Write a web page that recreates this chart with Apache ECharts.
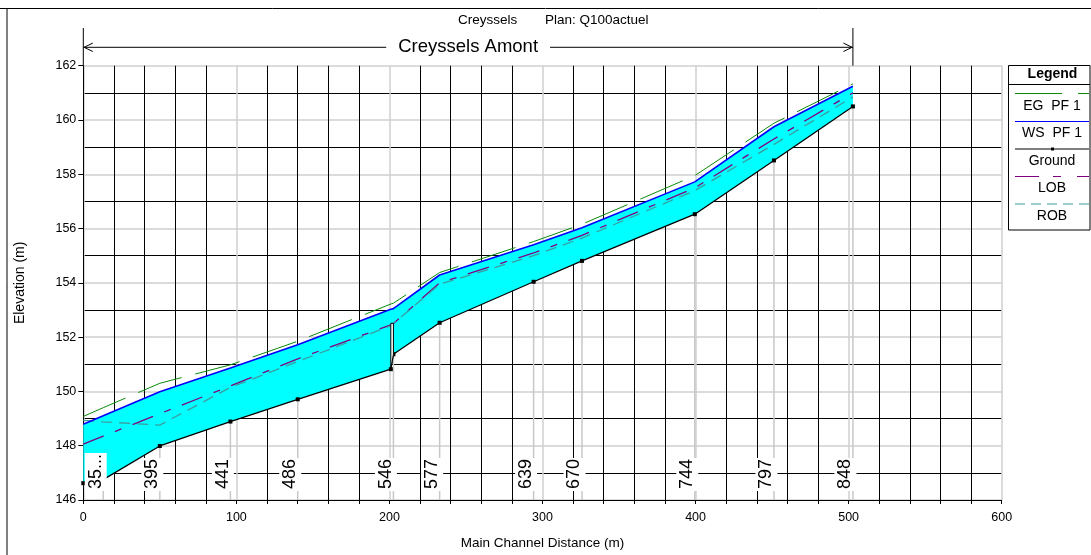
<!DOCTYPE html>
<html>
<head>
<meta charset="utf-8">
<script src="https://cdn.jsdelivr.net/npm/echarts@6/dist/echarts.min.js"></script>
<style>
html,body{margin:0;padding:0;background:#fff;}
#chart{width:1091px;height:555px;}
</style>
</head>
<body>
<div id="chart"></div>
<script>
// ---- data ----
const dist   = [0, 13, 50, 96.1, 140.1, 200.9, 202.6, 232.8, 294.2, 325.8, 399.5, 451.2, 502.8];
const ground = [146.62, 146.75, 147.99, 148.89, 149.71, 150.82, 151.37, 152.53, 154.04, 154.81, 156.53, 158.51, 160.50];
const ws     = [148.79, 149.10, 149.99, 150.86, 151.72, 153.03, 153.05, 154.29, 155.40, 156.03, 157.72, 159.75, 161.24];
const eg     = [149.08, 149.40, 150.30, 150.98, 151.85, 153.22, 153.25, 154.38, 155.52, 156.16, 157.95, 159.88, 161.33];
const lob    = [148.06, 148.35, 149.18, 150.20, 151.20, 152.45, 152.50, 154.00, 155.10, 155.75, 157.50, 159.30, 161.00];
const rob    = [148.93, 148.88, 148.76, 150.15, 151.10, 152.42, 152.50, 153.95, 155.00, 155.65, 157.40, 159.10, 160.85];
const sectionLabels = ['35...', '395', '441', '486', '546', '577', '639', '670', '744', '797', '848'];
const sectionIndex  = [1, 2, 3, 4, 6, 7, 8, 9, 10, 11, 12];
const structX = [200.9, 200.9, 202.6, 202.6];
const structY = [150.82, 152.51, 152.51, 151.37];
const reachName = 'Creyssels Amont';
const reachStart = 0;
const reachEnd = 502.8;
const legendNames = ['EG  PF 1', 'WS  PF 1', 'Ground', 'LOB', 'ROB'];

const FONT = '"Liberation Sans", Arial, sans-serif';
const C_EG = '#0a8a0a', C_WS = '#0000ff', C_GR = '#000000', C_LOB = '#800080', C_ROB = '#3a9e9e';

const chart = echarts.init(document.getElementById('chart'), null, {renderer: 'canvas'});

function pairs(ys) { return dist.map((d, i) => [d, ys[i]]); }

const option = {
  animation: false,
  backgroundColor: '#fff',
  textStyle: {fontFamily: FONT},
  grid: {left: 83.3, right: 89.3, top: 65.7, bottom: 52.7, containLabel: false},
  xAxis: {
    type: 'value', min: 0, max: 600, interval: 100,
    name: 'Main Channel Distance (m)', nameLocation: 'middle', nameGap: 36,
    nameTextStyle: {fontSize: 13.5, color: '#000', fontFamily: FONT},
    axisLine: {show: true, lineStyle: {color: '#000', width: 1}},
    axisTick: {show: true, length: 4, lineStyle: {color: '#000'}},
    minorTick: {show: true, splitNumber: 5, length: 4, lineStyle: {color: '#000'}},
    axisLabel: {fontSize: 12.5, color: '#000', margin: 11, fontFamily: FONT},
    splitLine: {show: true, lineStyle: {color: '#cfcfcf', width: 1.5}},
    minorSplitLine: {show: true, lineStyle: {color: '#000', width: 1}}
  },
  yAxis: {
    type: 'value', min: 146, max: 162, interval: 2,
    name: 'Elevation (m)', nameLocation: 'middle', nameGap: 56, nameRotate: 90,
    nameTextStyle: {fontSize: 14, color: '#000', fontFamily: FONT},
    axisLine: {show: true, lineStyle: {color: '#000', width: 1}},
    axisTick: {show: true, length: 5, lineStyle: {color: '#000'}},
    minorTick: {show: false, splitNumber: 2},
    axisLabel: {fontSize: 12.5, color: '#000', margin: 7, fontFamily: FONT},
    splitLine: {show: true, lineStyle: {color: '#cfcfcf', width: 1.5}},
    minorSplitLine: {show: true, lineStyle: {color: '#000', width: 1}}
  },
  series: [
    { // flow area fill
      type: 'custom', z: 2, silent: true,
      data: [[0, 146]],
      renderItem: function (params, api) {
        const pts = [];
        for (let i = 0; i < dist.length; i++) pts.push(api.coord([dist[i], ws[i]]));
        for (let i = dist.length - 1; i >= 0; i--) pts.push(api.coord([dist[i], ground[i]]));
        return {type: 'polygon', shape: {points: pts}, style: {fill: '#00ffff', stroke: null}};
      }
    },
    { // section lines
      type: 'custom', z: 2, silent: true,
      data: sectionIndex.map(i => [dist[i], ground[i]]),
      renderItem: function (params, api) {
        const a = api.coord([api.value(0), api.value(1)]);
        const b = api.coord([api.value(0), 146]);
        return {type: 'line', shape: {x1: a[0], y1: a[1], x2: b[0], y2: b[1]},
                style: {stroke: '#c8c8c8', lineWidth: 1.5}};
      }
    },
    {name: 'EG  PF 1', type: 'line', z: 4, data: pairs(eg), symbol: 'none',
     lineStyle: {color: C_EG, width: 1, type: [46, 14]}},
    {name: 'LOB', type: 'line', z: 4, data: pairs(lob), symbol: 'none',
     lineStyle: {color: C_LOB, width: 1.3, type: [22, 12, 7, 12]}},
    {name: 'ROB', type: 'line', z: 4, data: pairs(rob), symbol: 'none',
     lineStyle: {color: C_ROB, width: 1.3, type: [11, 7]}},
    {name: 'WS  PF 1', type: 'line', z: 5, data: pairs(ws), symbol: 'none',
     lineStyle: {color: C_WS, width: 1.6}},
    {name: 'Ground', type: 'line', z: 6, data: pairs(ground), symbol: 'rect', symbolSize: 4,
     itemStyle: {color: C_GR}, lineStyle: {color: C_GR, width: 1.3}},
    { // structure
      type: 'custom', z: 7, silent: true,
      data: [[structX[0], structY[0]]],
      renderItem: function (params, api) {
        const pts = structX.map((x, i) => api.coord([x, structY[i]]));
        return {type: 'polygon', shape: {points: pts},
                style: {fill: '#ffffff', stroke: '#000', lineWidth: 1}};
      }
    },
    { // section labels
      type: 'custom', z: 8, silent: true,
      data: sectionIndex.map(i => [dist[i], ground[i]]),
      renderItem: function (params, api) {
        const b = api.coord([api.value(0), 146]);
        return {type: 'text', x: b[0] - 7.5, y: b[1] - 9, rotation: Math.PI / 2,
                style: {text: sectionLabels[params.dataIndex], font: '18px ' + FONT, fill: '#000',
                        align: 'left', verticalAlign: 'middle', backgroundColor: '#fff',
                        padding: [2, 1, 2, 2]}};
      }
    },
    { // reach bracket
      type: 'custom', z: 8, silent: true,
      data: [[reachStart, 162]],
      renderItem: function (params, api) {
        const a = api.coord([reachStart, 162]);
        const b = api.coord([reachEnd, 162]);
        const top = a[1];
        const y = top - 18.4;
        const y0 = top - 37.7;
        const ls = {stroke: '#000', lineWidth: 1};
        return {type: 'group', children: [
          {type: 'line', shape: {x1: a[0], y1: y0, x2: a[0], y2: top}, style: ls},
          {type: 'line', shape: {x1: b[0], y1: y0, x2: b[0], y2: top}, style: ls},
          {type: 'line', shape: {x1: a[0], y1: y, x2: b[0], y2: y}, style: ls},
          {type: 'polyline', shape: {points: [[a[0] + 9.5, y - 4.2], [a[0] + 0.8, y], [a[0] + 9.5, y + 4.2]]}, style: {stroke: '#000', fill: null, lineWidth: 1}},
          {type: 'polyline', shape: {points: [[b[0] - 9.5, y - 4.2], [b[0] - 0.8, y], [b[0] - 9.5, y + 4.2]]}, style: {stroke: '#000', fill: null, lineWidth: 1}},
          {type: 'text', x: (a[0] + b[0]) / 2, y: y, style: {text: reachName, font: '18.5px ' + FONT, fill: '#000',
            align: 'center', verticalAlign: 'middle', backgroundColor: '#fff', padding: [0, 12, 0, 12]}}
        ]};
      }
    }
  ],
  graphic: [
    // frame
    {type: 'line', shape: {x1: 0, y1: 8.5, x2: 1091, y2: 8.5}, style: {stroke: '#000', lineWidth: 1}, z: 10},
    {type: 'line', shape: {x1: 7, y1: 8.5, x2: 7, y2: 555}, style: {stroke: '#000', lineWidth: 1}, z: 10},
    // title
    {type: 'text', x: 458, y: 20, style: {text: 'Creyssels', font: '13.5px ' + FONT, fill: '#000', align: 'left', verticalAlign: 'middle'}, z: 10},
    {type: 'text', x: 545, y: 20, style: {text: 'Plan: Q100actuel', font: '13.5px ' + FONT, fill: '#000', align: 'left', verticalAlign: 'middle'}, z: 10},
    // legend box
    {type: 'rect', shape: {x: 1008.5, y: 65.5, width: 81.5, height: 164.5}, style: {fill: '#fff', stroke: '#000', lineWidth: 1}, z: 10},
    {type: 'line', shape: {x1: 1008.5, y1: 84.5, x2: 1090, y2: 84.5}, style: {stroke: '#000', lineWidth: 1}, z: 11},
    {type: 'text', x: 1052.5, y: 74.5, style: {text: 'Legend', font: 'bold 14px ' + FONT, fill: '#000', align: 'center', verticalAlign: 'middle'}, z: 11},
    {type: 'line', shape: {x1: 1015, y1: 93.5, x2: 1089, y2: 93.5}, style: {stroke: C_EG, lineWidth: 1, lineDash: [47, 16]}, z: 11},
    {type: 'text', x: 1052, y: 106, style: {text: legendNames[0], font: '14px ' + FONT, fill: '#000', align: 'center', verticalAlign: 'middle'}, z: 11},
    {type: 'line', shape: {x1: 1015, y1: 121.5, x2: 1089, y2: 121.5}, style: {stroke: C_WS, lineWidth: 1}, z: 11},
    {type: 'text', x: 1052, y: 133.5, style: {text: legendNames[1], font: '14px ' + FONT, fill: '#000', align: 'center', verticalAlign: 'middle'}, z: 11},
    {type: 'line', shape: {x1: 1015, y1: 149, x2: 1089, y2: 149}, style: {stroke: C_GR, lineWidth: 1}, z: 11},
    {type: 'rect', shape: {x: 1051, y: 147.5, width: 3, height: 3}, style: {fill: '#000'}, z: 11},
    {type: 'text', x: 1052, y: 161, style: {text: legendNames[2], font: '14px ' + FONT, fill: '#000', align: 'center', verticalAlign: 'middle'}, z: 11},
    {type: 'line', shape: {x1: 1015, y1: 176.5, x2: 1089, y2: 176.5}, style: {stroke: C_LOB, lineWidth: 1, lineDash: [24, 14, 8, 16]}, z: 11},
    {type: 'text', x: 1052, y: 188.5, style: {text: legendNames[3], font: '14px ' + FONT, fill: '#000', align: 'center', verticalAlign: 'middle'}, z: 11},
    {type: 'line', shape: {x1: 1015, y1: 204, x2: 1089, y2: 204}, style: {stroke: C_ROB, lineWidth: 1, lineDash: [10, 6]}, z: 11},
    {type: 'text', x: 1052, y: 216.5, style: {text: legendNames[4], font: '14px ' + FONT, fill: '#000', align: 'center', verticalAlign: 'middle'}, z: 11}
  ]
};
chart.setOption(option);
</script>
</body>
</html>
